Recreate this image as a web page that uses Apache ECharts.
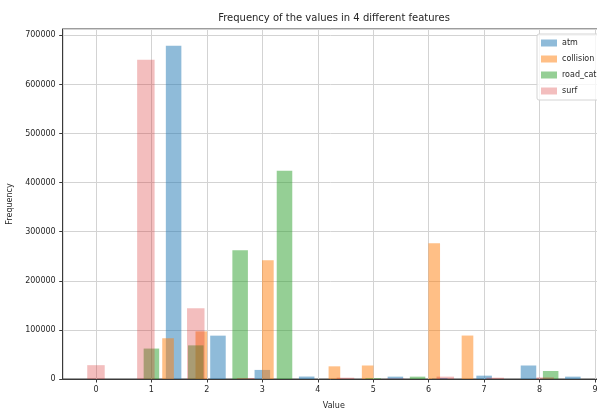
<!DOCTYPE html>
<html>
<head>
<meta charset="utf-8">
<script src="https://cdn.jsdelivr.net/npm/echarts@6/dist/echarts.min.js"></script>
<style>html,body{margin:0;padding:0;background:#fff}#c{width:597px;height:409px}</style>
</head>
<body>
<div id="c"></div>
<script>
// ---- data (histogram bin centres, bin widths and counts per feature) ----
const seriesNames = ['atm', 'collision', 'road_cat', 'surf'];
const xTickLabels = ['0','1','2','3','4','5','6','7','8','9'];

const atmBins = [1.4, 2.2, 3.0, 3.8, 4.6, 5.4, 6.2, 7.0, 7.8, 8.6];
const atmBinWidth = 0.8;
const atmCounts = [679000, 88300, 18500, 5000, 0, 4800, 2000, 6800, 27500, 4800];

const collisionBins = [1.3, 1.9, 2.5, 3.1, 3.7, 4.3, 4.9, 5.5, 6.1, 6.7];
const collisionBinWidth = 0.6;
const collisionCounts = [83000, 97000, 0, 241900, 0, 25800, 27500, 0, 276400, 88500];

const roadCatBins = [1.0, 1.8, 2.6, 3.4, 4.2, 5.0, 5.8, 6.6, 7.4, 8.2];
const roadCatBinWidth = 0.8;
const roadCatCounts = [62000, 68500, 262200, 424100, 0, 1400, 4800, 0, 0, 16300];

const surfBins = [0, 0.9, 1.8, 2.7, 3.6, 4.5, 5.4, 6.3, 7.2, 8.1];
const surfBinWidth = 0.9;
const surfCounts = [28200, 650400, 144300, 2000, 0, 2700, 1000, 4800, 2700, 3400];

// ---- styles ----
const RWIDTH = 0.35;
const colors = ['rgba(31,119,180,0.5)', 'rgba(255,127,14,0.5)', 'rgba(44,160,44,0.5)', 'rgba(214,39,40,0.3)'];
const FONT = 'DejaVu Sans';
const TXT = '#262626';

function pairs(bins, counts) { return bins.map((b, i) => [b, counts[i]]); }

function makeRender(binW) {
  return function (params, api) {
    const c = api.value(0), v = api.value(1);
    if (!v) return null;
    const half = binW * RWIDTH / 2;
    const p0 = api.coord([c - half, v]);
    const p1 = api.coord([c + half, 0]);
    return {
      type: 'rect',
      shape: { x: p0[0], y: p0[1], width: p1[0] - p0[0], height: p1[1] - p0[1] },
      style: api.style()
    };
  };
}

const specs = [
  [atmBins, atmCounts, atmBinWidth],
  [collisionBins, collisionCounts, collisionBinWidth],
  [roadCatBins, roadCatCounts, roadCatBinWidth],
  [surfBins, surfCounts, surfBinWidth]
];

const series = specs.map((s, i) => ({
  type: 'custom',
  name: seriesNames[i],
  renderItem: makeRender(s[2]),
  encode: { x: 0, y: 1 },
  data: pairs(s[0], s[1]),
  itemStyle: { color: colors[i] },
  animation: false
}));

const chart = echarts.init(document.getElementById('c'), null, { renderer: 'canvas' });
chart.setOption({
  animation: false,
  backgroundColor: '#fff',
  color: colors,
  title: {
    text: 'Frequency of the values in 4 different features',
    left: 334, top: 13, textAlign: 'center', padding: 0,
    textStyle: { fontFamily: FONT, fontSize: 10, fontWeight: 'normal', color: TXT }
  },
  legend: {
    orient: 'vertical',
    left: 537, top: 34,
    padding: [4, 60, 4, 4],
    itemWidth: 16, itemHeight: 7, itemGap: 6,
    icon: 'rect',
    backgroundColor: 'rgba(255,255,255,0.8)',
    borderColor: '#d4d4d4', borderWidth: 1, borderRadius: 2,
    textStyle: { fontFamily: FONT, fontSize: 8, color: TXT, lineHeight: 10 },
    data: seriesNames
  },
  grid: {
    left: 62.7, top: 29, right: -8, bottom: 30,
    outerBoundsMode: 'none', containLabel: false,
    show: true, borderColor: '#3a3a3a', borderWidth: 1, backgroundColor: 'transparent'
  },
  xAxis: {
    type: 'value',
    min: -0.6, max: 9.18,
    splitNumber: 10,
    name: 'Value', nameLocation: 'middle', nameGap: 23,
    nameTextStyle: { fontFamily: FONT, fontSize: 8, color: TXT },
    axisLine: { show: true, onZero: false, lineStyle: { color: '#3a3a3a', width: 1 } },
    axisTick: { show: true, length: 3.5, lineStyle: { color: '#3a3a3a' } },
    axisLabel: {
      showMinLabel: false, showMaxLabel: false, margin: 7,
      fontFamily: FONT, fontSize: 8, color: TXT,
      formatter: v => (Number.isInteger(v) ? xTickLabels[v] : '')
    },
    splitLine: { show: true, lineStyle: { color: '#d3d3d3', width: 1 } }
  },
  yAxis: {
    type: 'value',
    min: 0, max: 713000, interval: 100000,
    name: 'Frequency', nameLocation: 'middle', nameGap: 42,
    nameTextStyle: { fontFamily: FONT, fontSize: 8, color: TXT },
    axisLine: { show: true, onZero: false, lineStyle: { color: '#3a3a3a', width: 1 } },
    axisTick: { show: true, length: 3.5, lineStyle: { color: '#3a3a3a' } },
    axisLabel: {
      showMaxLabel: false, margin: 7,
      fontFamily: FONT, fontSize: 8, color: TXT,
      formatter: v => String(v)
    },
    splitLine: { show: true, lineStyle: { color: '#d3d3d3', width: 1 } }
  },
  series: series
});
</script>
</body>
</html>
